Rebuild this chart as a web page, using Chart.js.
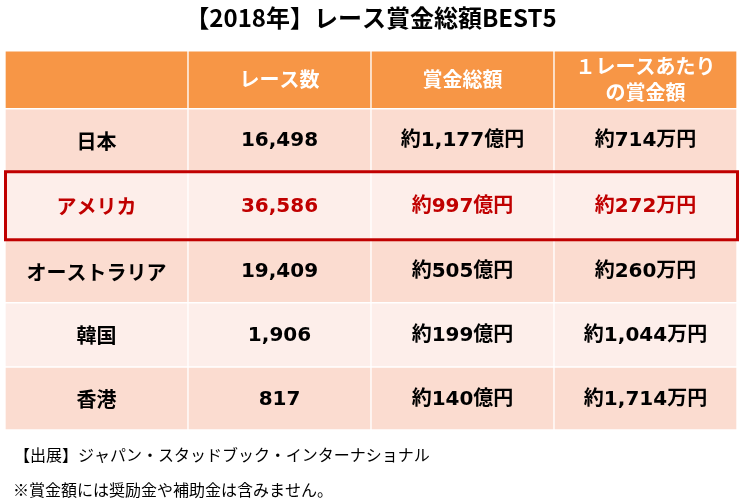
<!DOCTYPE html>
<html><head><meta charset="utf-8">
<script src="https://cdn.jsdelivr.net/npm/chart.js@4.4.1/dist/chart.umd.min.js"></script>
<style>html,body{margin:0;padding:0;background:#fff}#wrap{width:742px;height:502px;position:relative}</style>
</head><body><div id="wrap"><canvas id="c" width="742" height="502"></canvas></div>
<script>
// ---- data ----
const chartTitle = '【2018年】レース賞金総額BEST5';
const columnHeaders = ['', 'レース数', '賞金総額', ['１レースあたり', 'の賞金額']];
const countries = ['日本', 'アメリカ', 'オーストラリア', '韓国', '香港'];
const raceCounts = ['16,498', '36,586', '19,409', '1,906', '817'];
const totalPrize = ['約1,177億円', '約997億円', '約505億円', '約199億円', '約140億円'];
const prizePerRace = ['約714万円', '約272万円', '約260万円', '約1,044万円', '約1,714万円'];
const highlightCountry = 'アメリカ';
const footnotes = ['【出展】ジャパン・スタッドブック・インターナショナル', '※賞金額には奨励金や補助金は含みません。'];

// ---- style ----
const FONT = '"Noto Sans CJK JP", "Noto Sans", sans-serif';
const BODY_FONT = '"DejaVu Sans", "Noto Sans CJK JP", sans-serif';
const ROW_WEIGHTS = [0.92, 1, 1.08, 1, 1.02, 1]; // header + 5 rows (relative heights)
const HEADER_BG = '#F79646';
const ROW_BG = ['#FBDCD0', '#FDEEEA'];
const RED = '#C00000';

const colKeys = columnHeaders.map((_, i) => 'col' + i);
const bounds = [];
let acc = 0;
ROW_WEIGHTS.forEach(w => { bounds.push([acc, acc + w]); acc += w; });
const total = acc;

const rowsText = countries.map((c, i) => [c, raceCounts[i], totalPrize[i], prizePerRace[i]]);

const datasets = ROW_WEIGHTS.map((w, r) => ({
  label: r === 0 ? 'header' : countries[r - 1],
  data: colKeys.map(() => bounds[r]),
  backgroundColor: r === 0 ? HEADER_BG : ROW_BG[(r - 1) % 2],
  borderColor: '#ffffff',
  borderWidth: 1,
  borderSkipped: false,
  grouped: false,
  categoryPercentage: 1,
  barPercentage: 1
}));

const tablePlugin = {
  id: 'tableText',
  afterDatasetsDraw(chart) {
    const ctx = chart.ctx, xs = chart.scales.x, ys = chart.scales.y, ca = chart.chartArea;
    ctx.save();
    ctx.textAlign = 'center';
    ctx.textBaseline = 'middle';
    // header
    const hy = (ys.getPixelForValue(bounds[0][0]) + ys.getPixelForValue(bounds[0][1])) / 2;
    ctx.fillStyle = '#ffffff';
    ctx.font = 'bold 20px ' + FONT;
    columnHeaders.forEach((h, c) => {
      const x = xs.getPixelForValue(c);
      const lines = Array.isArray(h) ? h : [h];
      const lh = 26;
      lines.forEach((t, k) => ctx.fillText(t, x, hy + (k - (lines.length - 1) / 2) * lh));
    });
    // body
    rowsText.forEach((row, i) => {
      const b = bounds[i + 1];
      const y = (ys.getPixelForValue(b[0]) + ys.getPixelForValue(b[1])) / 2;
      const hl = countries[i] === highlightCountry;
      ctx.fillStyle = hl ? RED : '#000000';
      row.forEach((t, c) => {
        ctx.font = (c === 0 ? 'bold 20px ' + FONT : 'bold 20px ' + BODY_FONT);
        ctx.fillText(t, xs.getPixelForValue(c), y + 1);
      });
      if (hl) {
        ctx.strokeStyle = RED;
        ctx.lineWidth = 3;
        const t = ys.getPixelForValue(b[0]), btm = ys.getPixelForValue(b[1]);
        ctx.strokeRect(ca.left + 0.5, t, ca.right - ca.left, btm - t);
      }
    });
    ctx.restore();
  },
  afterDraw(chart) {
    const ctx = chart.ctx, ca = chart.chartArea;
    ctx.save();
    ctx.fillStyle = '#000000';
    ctx.font = '16px ' + FONT;
    ctx.textAlign = 'left';
    ctx.textBaseline = 'middle';
    ctx.fillText(footnotes[0], ca.left + 9, ca.bottom + 25);
    ctx.fillText(footnotes[1], ca.left + 8, ca.bottom + 60);
    ctx.restore();
  }
};

new Chart(document.getElementById('c'), {
  type: 'bar',
  data: { labels: colKeys, datasets },
  options: {
    responsive: false,
    animation: false,
    layout: { padding: { left: 5, right: 5, top: 0, bottom: 72 } },
    plugins: {
      legend: { display: false },
      tooltip: { enabled: false },
      title: {
        display: true, text: chartTitle, color: '#000',
        font: { family: FONT, size: 24, weight: 'bold' },
        padding: { top: 3, bottom: 19 }
      }
    },
    scales: {
      x: { type: 'category', display: false, offset: true },
      y: { type: 'linear', display: false, min: 0, max: total, reverse: true }
    }
  },
  plugins: [tablePlugin]
});
</script>
</body></html>
